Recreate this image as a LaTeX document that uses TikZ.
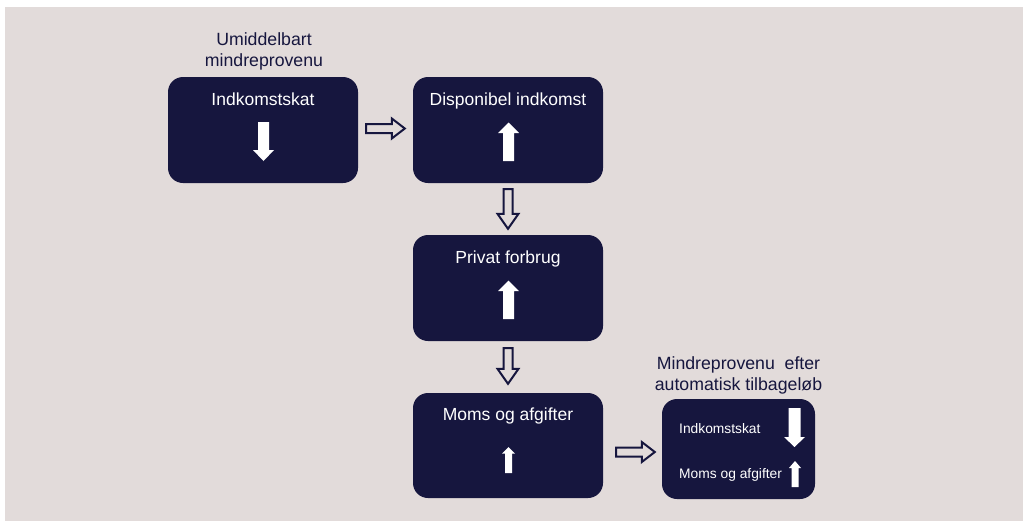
\documentclass[tikz,border=0pt]{standalone}
\usepackage{fontspec}
\setmainfont{Liberation Sans}
\usetikzlibrary{calc}
\definecolor{bg}{HTML}{E2DBDA}
\definecolor{navy}{HTML}{16163E}
\newcommand\hollowarr[5]{%
  \coordinate (hb) at ($(#2)!#5!(#1)$);
  \draw[hollowarrow] ($(#1)!#3!90:(#2)$) -- ($(hb)!#3!-90:(#1)$) -- ($(hb)!#4!-90:(#1)$) -- (#2)
    -- ($(hb)!#4!90:(#1)$) -- ($(hb)!#3!90:(#1)$) -- ($(#1)!#3!-90:(#2)$) -- cycle;}
\newcommand\whitearr[6]{%
  \fill[white] (#1-#5,#2) -- (#1-#5,#3) -- (#1-#6,#3) -- (#1,#4) -- (#1+#6,#3) -- (#1+#5,#3) -- (#1+#5,#2) -- cycle;}
\begin{document}
\begin{tikzpicture}[x=1pt,y=-1pt,
  box/.style={fill=navy, rounded corners=15pt, inner sep=0pt, minimum width=190pt, minimum height=106pt},
  boxtext/.style={text=white, font=\fontsize{17.5}{21}\selectfont, inner sep=0pt, anchor=base},
  smalltext/.style={text=white, font=\fontsize{13.8}{16}\selectfont, inner sep=0pt, anchor=base west},
  headtext/.style={text=navy, font=\fontsize{17.7}{21}\selectfont, inner sep=0pt, anchor=base},
  hollowarrow/.style={draw=navy, fill=bg, line width=2pt}]
\useasboundingbox (0,0) rectangle (1023,528);
\fill[white] (0,0) rectangle (1023,528);
\fill[bg] (5,7) rectangle (1023,521);
% boxes
\node[box] (b1) at (263,130) {};
\node[box] (b2) at (508,130) {};
\node[box] (b3) at (508,288) {};
\node[box, minimum height=105pt] (b4) at (508,445.5) {};
\node[box, minimum width=153pt, minimum height=100pt] (b5) at (738.5,449) {};
% headers
\node[headtext] (h1a) at (264,45) {Umiddelbart};
\node[headtext] (h1b) at (264,66) {mindreprovenu};
\node[headtext] (h2a) at (738.5,369.5) {Mindreprovenu\ \ efter};
\node[headtext] (h2b) at (738.5,390) {automatisk tilbageløb};
% box labels
\node[boxtext] (t1) at (263,105) {Indkomstskat};
\node[boxtext] (t2) at (508,105) {Disponibel indkomst};
\node[boxtext] (t3) at (508,263) {Privat forbrug};
\node[boxtext] (t4) at (508,420) {Moms og afgifter};
\node[smalltext] (t5a) at (679,433) {Indkomstskat};
\node[smalltext] (t5b) at (679,478) {Moms og afgifter};
% white arrows inside boxes
\whitearr{263.5}{122}{150}{161}{5.5}{10.5}
\whitearr{508.5}{161}{133}{122.5}{5.5}{10.5}
\whitearr{508.5}{319}{291}{280.5}{5.5}{10.5}
\whitearr{508.5}{473}{453.5}{447}{3.5}{6.5}
\whitearr{794.5}{408}{437}{447}{6}{10.5}
\whitearr{795}{487}{468}{461}{3.5}{6}
% hollow connector arrows
\coordinate (a1s) at ($(b1.east)+(8,-1.5)$);
\coordinate (a1e) at ($(b2.west)+(-8,-1.5)$);
\hollowarr{a1s}{a1e}{4.5pt}{10pt}{13pt}
\coordinate (a2s) at ($(b2.south)+(0,6)$);
\coordinate (a2e) at ($(b3.north)+(0,-6)$);
\hollowarr{a2s}{a2e}{4.5pt}{10.5pt}{15pt}
\coordinate (a3s) at ($(b3.south)+(0,7)$);
\coordinate (a3e) at ($(b4.north)+(0,-9)$);
\hollowarr{a3s}{a3e}{4.5pt}{10.5pt}{15pt}
\coordinate (a4s) at ($(b4.east)+(13,6.5)$);
\coordinate (a4e) at ($(b5.west)+(-7,3)$);
\hollowarr{a4s}{a4e}{4.5pt}{10pt}{13pt}
\end{tikzpicture}
\end{document}
